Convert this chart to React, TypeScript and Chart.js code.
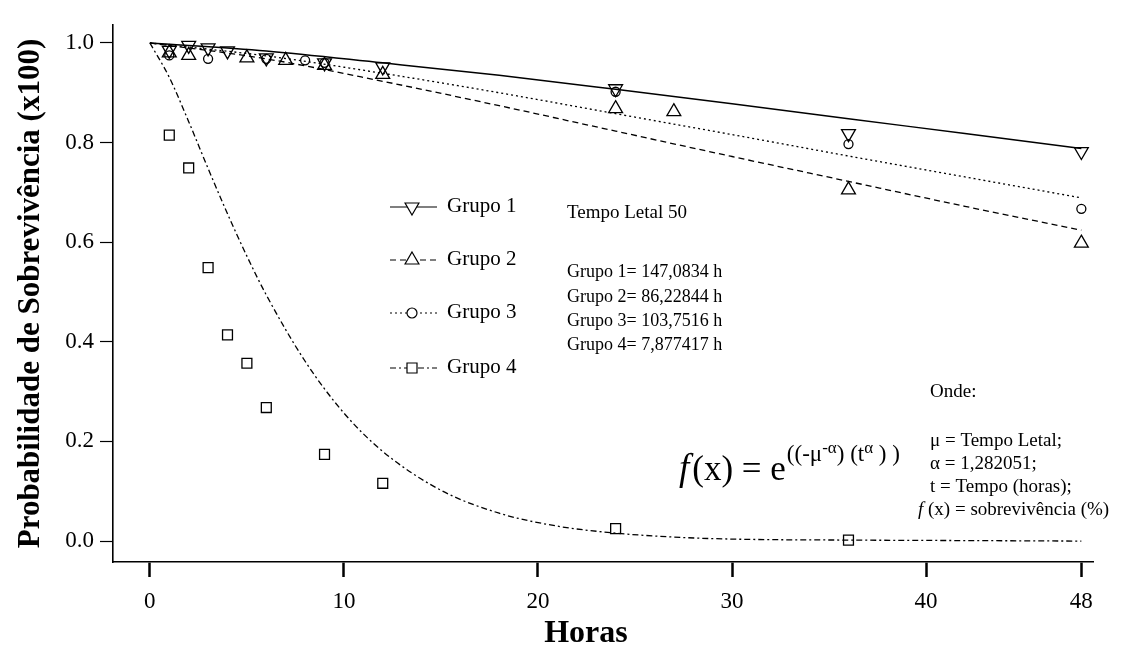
import React, { useEffect, useRef } from 'react';
import { Chart, registerables } from 'chart.js';

Chart.register(...registerables);

// ---- Axis ticks ----
const xTicks = [0, 10, 20, 30, 40, 48];
const yTicks = [0, 0.2, 0.4, 0.6, 0.8, 1.0];

const g1Times = [1, 2, 3, 4, 6, 9, 12, 24, 36, 48];
const g1Values = [0.985, 0.995, 0.99, 0.984, 0.97, 0.96, 0.952, 0.908, 0.818, 0.782];

const g2Times = [1, 2, 5, 7, 9, 12, 24, 27, 36, 48];
const g2Values = [0.98, 0.975, 0.97, 0.965, 0.955, 0.937, 0.868, 0.862, 0.705, 0.598];

const g3Times = [1, 3, 6, 8, 9, 24, 36, 48];
const g3Values = [0.975, 0.968, 0.968, 0.965, 0.96, 0.902, 0.797, 0.667];

const g4Times = [1, 2, 3, 4, 5, 6, 9, 12, 24, 36];
const g4Values = [0.815, 0.749, 0.549, 0.414, 0.357, 0.268, 0.174, 0.116, 0.025, 0.002];

// ---- Fitted curves ----
const curveTimes = [0, 6, 12, 18, 24, 30, 36, 42, 48];
const g1Curve = [1.0, 0.984, 0.96, 0.935, 0.907, 0.878, 0.848, 0.818, 0.788];
const g2Curve = [1.0, 0.968, 0.923, 0.874, 0.823, 0.772, 0.722, 0.672, 0.624];
const g3Curve = [1.0, 0.974, 0.939, 0.9, 0.858, 0.816, 0.773, 0.731, 0.689];

const g4CurveTimes = [0, 1, 2, 3, 4, 5, 6, 8, 10, 12, 15, 18, 21, 24, 27, 30, 36, 42, 48];
const g4Curve = [1.0, 0.931, 0.842, 0.748, 0.657, 0.572, 0.494, 0.361, 0.257, 0.18, 0.102, 0.056, 0.03, 0.016, 0.008, 0.004, 0.002, 0.001, 0.0];

// ---- Text ----
const groupNames = ['Grupo 1', 'Grupo 2', 'Grupo 3', 'Grupo 4'];
const lethalTitle = 'Tempo Letal 50';
const lethalLines = ['Grupo 1= 147,0834 h', 'Grupo 2= 86,22844 h', 'Grupo 3= 103,7516 h', 'Grupo 4= 7,877417 h'];
const whereTitle = 'Onde:';
const whereLines = ['\u03bc = Tempo Letal;', '\u03b1 = 1,282051;', 't = Tempo (horas);'];
const whereLast = ' (x) = sobreviv\u00eancia (%)';
const yTitle = 'Probabilidade de Sobreviv\u00eancia (x100)';
const xTitle = 'Horas';

const FONT = '"Liberation Serif", "Times New Roman", serif';
const dashes: number[][] = [[], [6, 4], [2, 3], [6, 3, 2, 3]];
const markerStyles = ['triangleDown', 'triangle', 'circle', 'rect'];

const pts = (t: number[], v: number[]) => t.map((x, i) => ({ x, y: v[i] }));

function drawMarker(ctx: CanvasRenderingContext2D, style: string, x: number, y: number) {
  ctx.beginPath();
  if (style === 'triangle' || style === 'triangleDown') {
    const r = 8;
    const s = style === 'triangle' ? 1 : -1;
    ctx.moveTo(x, y - s * r);
    ctx.lineTo(x + r * 0.866, y + s * r * 0.5);
    ctx.lineTo(x - r * 0.866, y + s * r * 0.5);
    ctx.closePath();
  } else if (style === 'circle') {
    ctx.arc(x, y, 5, 0, Math.PI * 2);
  } else {
    ctx.rect(x - 5, y - 5, 10, 10);
  }
  ctx.fillStyle = '#fff';
  ctx.fill();
  ctx.stroke();
}

const annotationPlugin = {
  id: 'annotations',
  afterDraw(chart: any) {
    const ctx: CanvasRenderingContext2D = chart.ctx;
    ctx.save();
    ctx.fillStyle = '#000';
    ctx.strokeStyle = '#000';
    ctx.textBaseline = 'middle';
    ctx.textAlign = 'left';

    // legend
    const legendY = [207, 260, 313, 368];
    groupNames.forEach((name, i) => {
      const y = legendY[i];
      ctx.lineWidth = 1.2;
      ctx.setLineDash(dashes[i]);
      ctx.beginPath();
      ctx.moveTo(390, y);
      ctx.lineTo(437, y);
      ctx.stroke();
      ctx.setLineDash([]);
      drawMarker(ctx, markerStyles[i], 412, y);
      ctx.fillStyle = '#000';
      ctx.font = `21px ${FONT}`;
      ctx.fillText(name, 447, y - 1);
    });

    // lethal time block
    ctx.font = `19px ${FONT}`;
    ctx.fillText(lethalTitle, 567, 213);
    ctx.font = `18px ${FONT}`;
    const ly = [272, 297, 321, 345];
    lethalLines.forEach((t, i) => ctx.fillText(t, 567, ly[i]));

    // where block
    ctx.font = `19px ${FONT}`;
    ctx.fillText(whereTitle, 930, 392);
    const wy = [441, 464, 487];
    whereLines.forEach((t, i) => ctx.fillText(t, 930, wy[i]));
    ctx.font = `italic 19px ${FONT}`;
    ctx.fillText('f', 918, 510);
    const wx = 918 + ctx.measureText('f').width;
    ctx.font = `19px ${FONT}`;
    ctx.fillText(whereLast, wx, 510);

    // formula
    ctx.textBaseline = 'alphabetic';
    let fx = 679;
    const base = 480;
    ctx.font = `italic 37px ${FONT}`;
    ctx.fillText('f', fx, base);
    fx += ctx.measureText('f').width + 3;
    ctx.font = `35px ${FONT}`;
    const p1 = '(x) = e';
    ctx.fillText(p1, fx, base);
    fx += ctx.measureText(p1).width + 1;
    ctx.font = `23px ${FONT}`;
    const s1 = '((-\u03bc';
    ctx.fillText(s1, fx, base - 19);
    fx += ctx.measureText(s1).width;
    ctx.font = `17px ${FONT}`;
    const s2 = '-\u03b1';
    ctx.fillText(s2, fx, base - 27);
    fx += ctx.measureText(s2).width;
    ctx.font = `23px ${FONT}`;
    const s3 = ') (t';
    ctx.fillText(s3, fx, base - 19);
    fx += ctx.measureText(s3).width;
    ctx.font = `17px ${FONT}`;
    const s4 = '\u03b1';
    ctx.fillText(s4, fx, base - 27);
    fx += ctx.measureText(s4).width;
    ctx.font = `23px ${FONT}`;
    ctx.fillText(' ) )', fx, base - 19);

    // x title
    ctx.font = `bold 32px ${FONT}`;
    ctx.textAlign = 'center';
    ctx.textBaseline = 'middle';
    ctx.fillText(xTitle, 586, 634);

    ctx.restore();
  },
};

export default function App() {
  const ref = useRef<HTMLCanvasElement>(null);

  useEffect(() => {
    if (!ref.current) return;
    const curveDs = (label: string, t: number[], v: number[], i: number) => ({
      label,
      data: pts(t, v),
      showLine: true,
      borderColor: '#000',
      borderWidth: i === 0 ? 1.5 : 1.3,
      borderDash: dashes[i],
      pointRadius: 0,
      cubicInterpolationMode: 'monotone' as const,
      fill: false,
    });
    const pointDs = (label: string, t: number[], v: number[], style: string, rot: number, r: number) => ({
      label,
      data: pts(t, v),
      showLine: false,
      pointStyle: style,
      pointRotation: rot,
      pointRadius: r,
      pointBorderColor: '#000',
      pointBackgroundColor: 'rgba(255,255,255,0)',
      pointBorderWidth: 1.3,
    });

    const chart = new Chart(ref.current, {
      type: 'scatter',
      data: {
        datasets: [
          curveDs('Grupo 1 ajuste', curveTimes, g1Curve, 0),
          curveDs('Grupo 2 ajuste', curveTimes, g2Curve, 1),
          curveDs('Grupo 3 ajuste', curveTimes, g3Curve, 2),
          curveDs('Grupo 4 ajuste', g4CurveTimes, g4Curve, 3),
          pointDs('Grupo 1', g1Times, g1Values, 'triangle', 180, 8),
          pointDs('Grupo 2', g2Times, g2Values, 'triangle', 0, 8),
          pointDs('Grupo 3', g3Times, g3Values, 'circle', 0, 4.5),
          pointDs('Grupo 4', g4Times, g4Values, 'rect', 0, 7),
        ],
      },
      options: {
        responsive: false,
        animation: false,
        layout: { padding: { top: 25, right: 38, left: 0, bottom: 0 } },
        plugins: { legend: { display: false }, tooltip: { enabled: false } },
        scales: {
          x: {
            type: 'linear',
            min: -1.9,
            max: 48.6,
            afterBuildTicks: (s: any) => { s.ticks = xTicks.map((v) => ({ value: v })); },
            afterFit: (s: any) => { s.height = 98; },
            grid: { display: true, drawOnChartArea: false, drawTicks: true, tickLength: 15, tickWidth: 2.5, tickColor: '#000' },
            border: { display: true, color: '#000', width: 1.6 },
            ticks: { color: '#000', font: { family: FONT, size: 23 }, padding: 11, maxRotation: 0, autoSkip: false },
          },
          y: {
            type: 'linear',
            min: -0.042,
            max: 1.036,
            afterBuildTicks: (s: any) => { s.ticks = yTicks.map((v) => ({ value: v })); },
            afterFit: (s: any) => { s.width = 113; },
            grid: { display: true, drawOnChartArea: false, drawTicks: true, tickLength: 13, tickWidth: 1.2, tickColor: '#000' },
            border: { display: true, color: '#000', width: 1.6 },
            ticks: {
              color: '#000',
              font: { family: FONT, size: 23 },
              padding: 6,
              autoSkip: false,
              callback: (v: any) => Number(v).toFixed(1),
            },
            title: {
              display: true,
              text: yTitle,
              color: '#000',
              font: { family: FONT, size: 31, weight: 'bold' },
              padding: { top: 12, bottom: 0 },
            },
          },
        },
      },
      plugins: [annotationPlugin],
    } as any);
    return () => chart.destroy();
  }, []);

  return (
    <div style={{ position: 'absolute', left: 0, top: 0, width: 1131, height: 660, background: '#fff' }}>
      <canvas ref={ref} width={1131} height={660} style={{ display: 'block' }} />
    </div>
  );
}
